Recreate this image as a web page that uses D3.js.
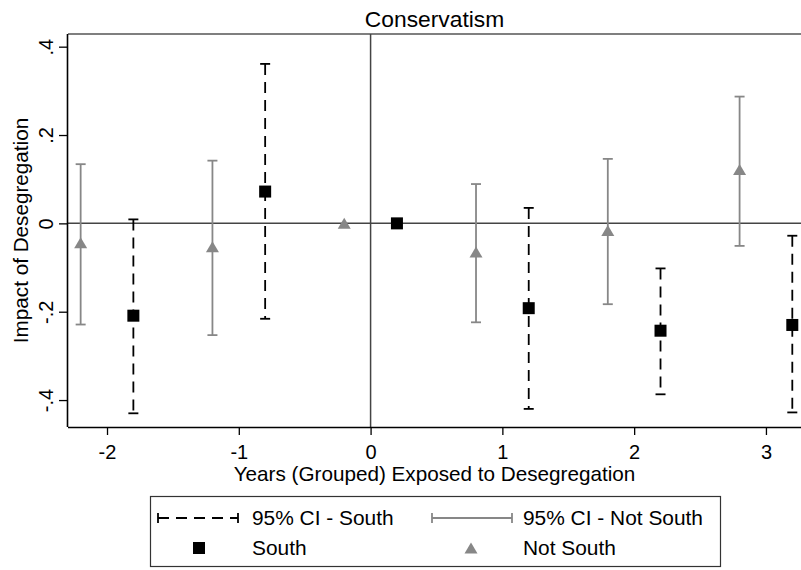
<!DOCTYPE html>
<html>
<head>
<meta charset="utf-8">
<script src="https://cdn.jsdelivr.net/npm/d3@7"></script>
<style>
  html, body { margin: 0; padding: 0; background: #fff; }
  svg { display: block; font-family: "Liberation Sans", Arial, sans-serif; }
</style>
</head>
<body>
<svg id="chart" width="801" height="570"></svg>
<script>
// Grouped years of exposure to desegregation
const years = [-2, -1, 0, 1, 2, 3];
const offset = 0.2;

// South: point estimates and 95% CI bounds (null = reference period, no CI)
const southEst   = [-0.209,  0.072, 0.000, -0.192, -0.243, -0.230];
const southLow   = [-0.430, -0.216, null,  -0.420, -0.387, -0.428];
const southHigh  = [ 0.009,  0.361, null,   0.035, -0.102, -0.028];

// Not South: point estimates and 95% CI bounds
const nsEst  = [-0.044, -0.053, 0.000, -0.065, -0.016, 0.122];
const nsLow  = [-0.229, -0.253, null,  -0.224, -0.183, -0.051];
const nsHigh = [ 0.134,  0.142, null,   0.089,  0.146,  0.287];

const xTicks = [-2, -1, 0, 1, 2, 3];
const yTicks = [-0.4, -0.2, 0, 0.2, 0.4];

const titleText = "Conservatism";
const xTitle = "Years (Grouped) Exposed to Desegregation";
const yTitle = "Impact of Desegregation";
const legendLabels = ["95% CI - South", "95% CI - Not South", "South", "Not South"];

const GRAY = "#878787";
const DARK = "#000";

const svg = d3.select("#chart");
const plotL = 68, plotR = 801, plotT = 34, plotB = 427;

const x = d3.scaleLinear().domain([-2.296, 3.266]).range([plotL, plotR]);
const y = d3.scaleLinear().domain([-0.461, 0.4287]).range([plotB, plotT]);

const fmt = v => v === 0 ? "0" : String(+v.toFixed(1)).replace("0.", ".");

// Title
svg.append("text")
  .attr("x", (plotL + plotR) / 2).attr("y", 26.5)
  .attr("text-anchor", "middle")
  .attr("font-size", 22.8)
  .text(titleText);

// Plot region border (top edge)
svg.append("line")
  .attr("x1", plotL).attr("x2", plotR).attr("y1", plotT).attr("y2", plotT)
  .attr("stroke", "#555").attr("stroke-width", 1.5);

// Reference lines at zero
svg.append("line")
  .attr("x1", plotL).attr("x2", plotR).attr("y1", y(0)).attr("y2", y(0))
  .attr("stroke", "#444").attr("stroke-width", 1.5);
svg.append("line")
  .attr("x1", x(0)).attr("x2", x(0)).attr("y1", plotT).attr("y2", plotB)
  .attr("stroke", "#444").attr("stroke-width", 1.5);

// X axis
const xAxis = svg.append("g")
  .attr("transform", `translate(0,${plotB})`)
  .call(d3.axisBottom(x).tickValues(xTicks).tickFormat(fmt).tickSize(8).tickPadding(0));
xAxis.select(".domain").attr("stroke", "#000").attr("stroke-width", 1.6)
  .attr("d", `M${plotL},0.5H${plotR}`);
xAxis.selectAll(".tick line").attr("stroke", "#000").attr("stroke-width", 1.3);
xAxis.selectAll(".tick text")
  .attr("font-size", 20).attr("font-family", "Liberation Sans, Arial, sans-serif")
  .attr("fill", "#000").attr("dy", null).attr("y", 32);

// Y axis
const yAxis = svg.append("g")
  .attr("transform", `translate(${plotL},0)`)
  .call(d3.axisLeft(y).tickValues(yTicks).tickFormat(fmt).tickSize(9));
yAxis.select(".domain").attr("stroke", "#000").attr("stroke-width", 1.6)
  .attr("d", `M-0.5,${plotT}V${plotB}`);
yAxis.selectAll(".tick line").attr("stroke", "#000").attr("stroke-width", 1.3);
yAxis.selectAll(".tick text")
  .attr("font-size", 20).attr("font-family", "Liberation Sans, Arial, sans-serif")
  .attr("fill", "#000")
  .attr("x", null).attr("dy", null)
  .attr("text-anchor", "middle")
  .attr("transform", "translate(-15,0) rotate(-90)");

// Axis titles
svg.append("text")
  .attr("x", (plotL + plotR) / 2).attr("y", 481)
  .attr("text-anchor", "middle").attr("font-size", 20.7)
  .text(xTitle);
svg.append("text")
  .attr("transform", `translate(28,${(plotT + plotB) / 2}) rotate(-90)`)
  .attr("text-anchor", "middle").attr("font-size", 20.7)
  .text(yTitle);

// Build series rows
const south = years.map((yr, i) => ({ x: yr + offset, est: southEst[i], lo: southLow[i], hi: southHigh[i] }));
const notSouth = years.map((yr, i) => ({ x: yr - offset, est: nsEst[i], lo: nsLow[i], hi: nsHigh[i] }));

const capW = 5;

function drawCI(g, data, color, dash, width) {
  const rows = data.filter(d => d.lo !== null);
  g.selectAll("line.ci").data(rows).join("line").attr("class", "ci")
    .attr("x1", d => x(d.x)).attr("x2", d => x(d.x))
    .attr("y1", d => y(d.hi)).attr("y2", d => y(d.lo))
    .attr("stroke", color).attr("stroke-width", width)
    .attr("stroke-dasharray", dash);
  g.selectAll("line.capHi").data(rows).join("line").attr("class", "capHi")
    .attr("x1", d => x(d.x) - capW).attr("x2", d => x(d.x) + capW)
    .attr("y1", d => y(d.hi)).attr("y2", d => y(d.hi))
    .attr("stroke", color).attr("stroke-width", width);
  g.selectAll("line.capLo").data(rows).join("line").attr("class", "capLo")
    .attr("x1", d => x(d.x) - capW).attr("x2", d => x(d.x) + capW)
    .attr("y1", d => y(d.lo)).attr("y2", d => y(d.lo))
    .attr("stroke", color).attr("stroke-width", width);
}

const gNS = svg.append("g");
drawCI(gNS, notSouth, GRAY, null, 1.8);
const gS = svg.append("g");
drawCI(gS, south, DARK, "11,7", 1.8);

// Markers
const triPath = (cx, cy) => `M${cx},${cy - 5.5}L${cx + 6.5},${cy + 5.5}L${cx - 6.5},${cy + 5.5}Z`;
gNS.selectAll("path.mk").data(notSouth).join("path").attr("class", "mk")
  .attr("d", d => triPath(x(d.x), y(d.est)))
  .attr("fill", GRAY);
gS.selectAll("rect.mk").data(south).join("rect").attr("class", "mk")
  .attr("x", d => x(d.x) - 6).attr("y", d => y(d.est) - 6)
  .attr("width", 12).attr("height", 12)
  .attr("fill", DARK);

// Legend
const lg = svg.append("g");
lg.append("rect")
  .attr("x", 150.5).attr("y", 496.5).attr("width", 570).attr("height", 70)
  .attr("fill", "#fff").attr("stroke", "#333").attr("stroke-width", 1.2);

const row1 = 518, row2 = 548;
function legendCI(x1, x2, color, dash) {
  lg.append("line").attr("x1", x1).attr("x2", x2).attr("y1", row1).attr("y2", row1)
    .attr("stroke", color).attr("stroke-width", 1.8).attr("stroke-dasharray", dash);
  [x1, x2].forEach(xx => lg.append("line")
    .attr("x1", xx).attr("x2", xx).attr("y1", row1 - 5).attr("y2", row1 + 5)
    .attr("stroke", color).attr("stroke-width", 1.8));
}
legendCI(158, 238, DARK, "11,7");
legendCI(432, 512, GRAY, null);

lg.append("rect").attr("x", 193).attr("y", row2 - 6).attr("width", 12).attr("height", 12).attr("fill", DARK);
lg.append("path").attr("d", triPath(471, row2)).attr("fill", GRAY);

const lt = [[252, 525, legendLabels[0]], [523, 525, legendLabels[1]], [252, 555, legendLabels[2]], [523, 555, legendLabels[3]]];
lt.forEach(([tx, ty, s]) => lg.append("text").attr("x", tx).attr("y", ty).attr("font-size", 20.9).text(s));
</script>
</body>
</html>
